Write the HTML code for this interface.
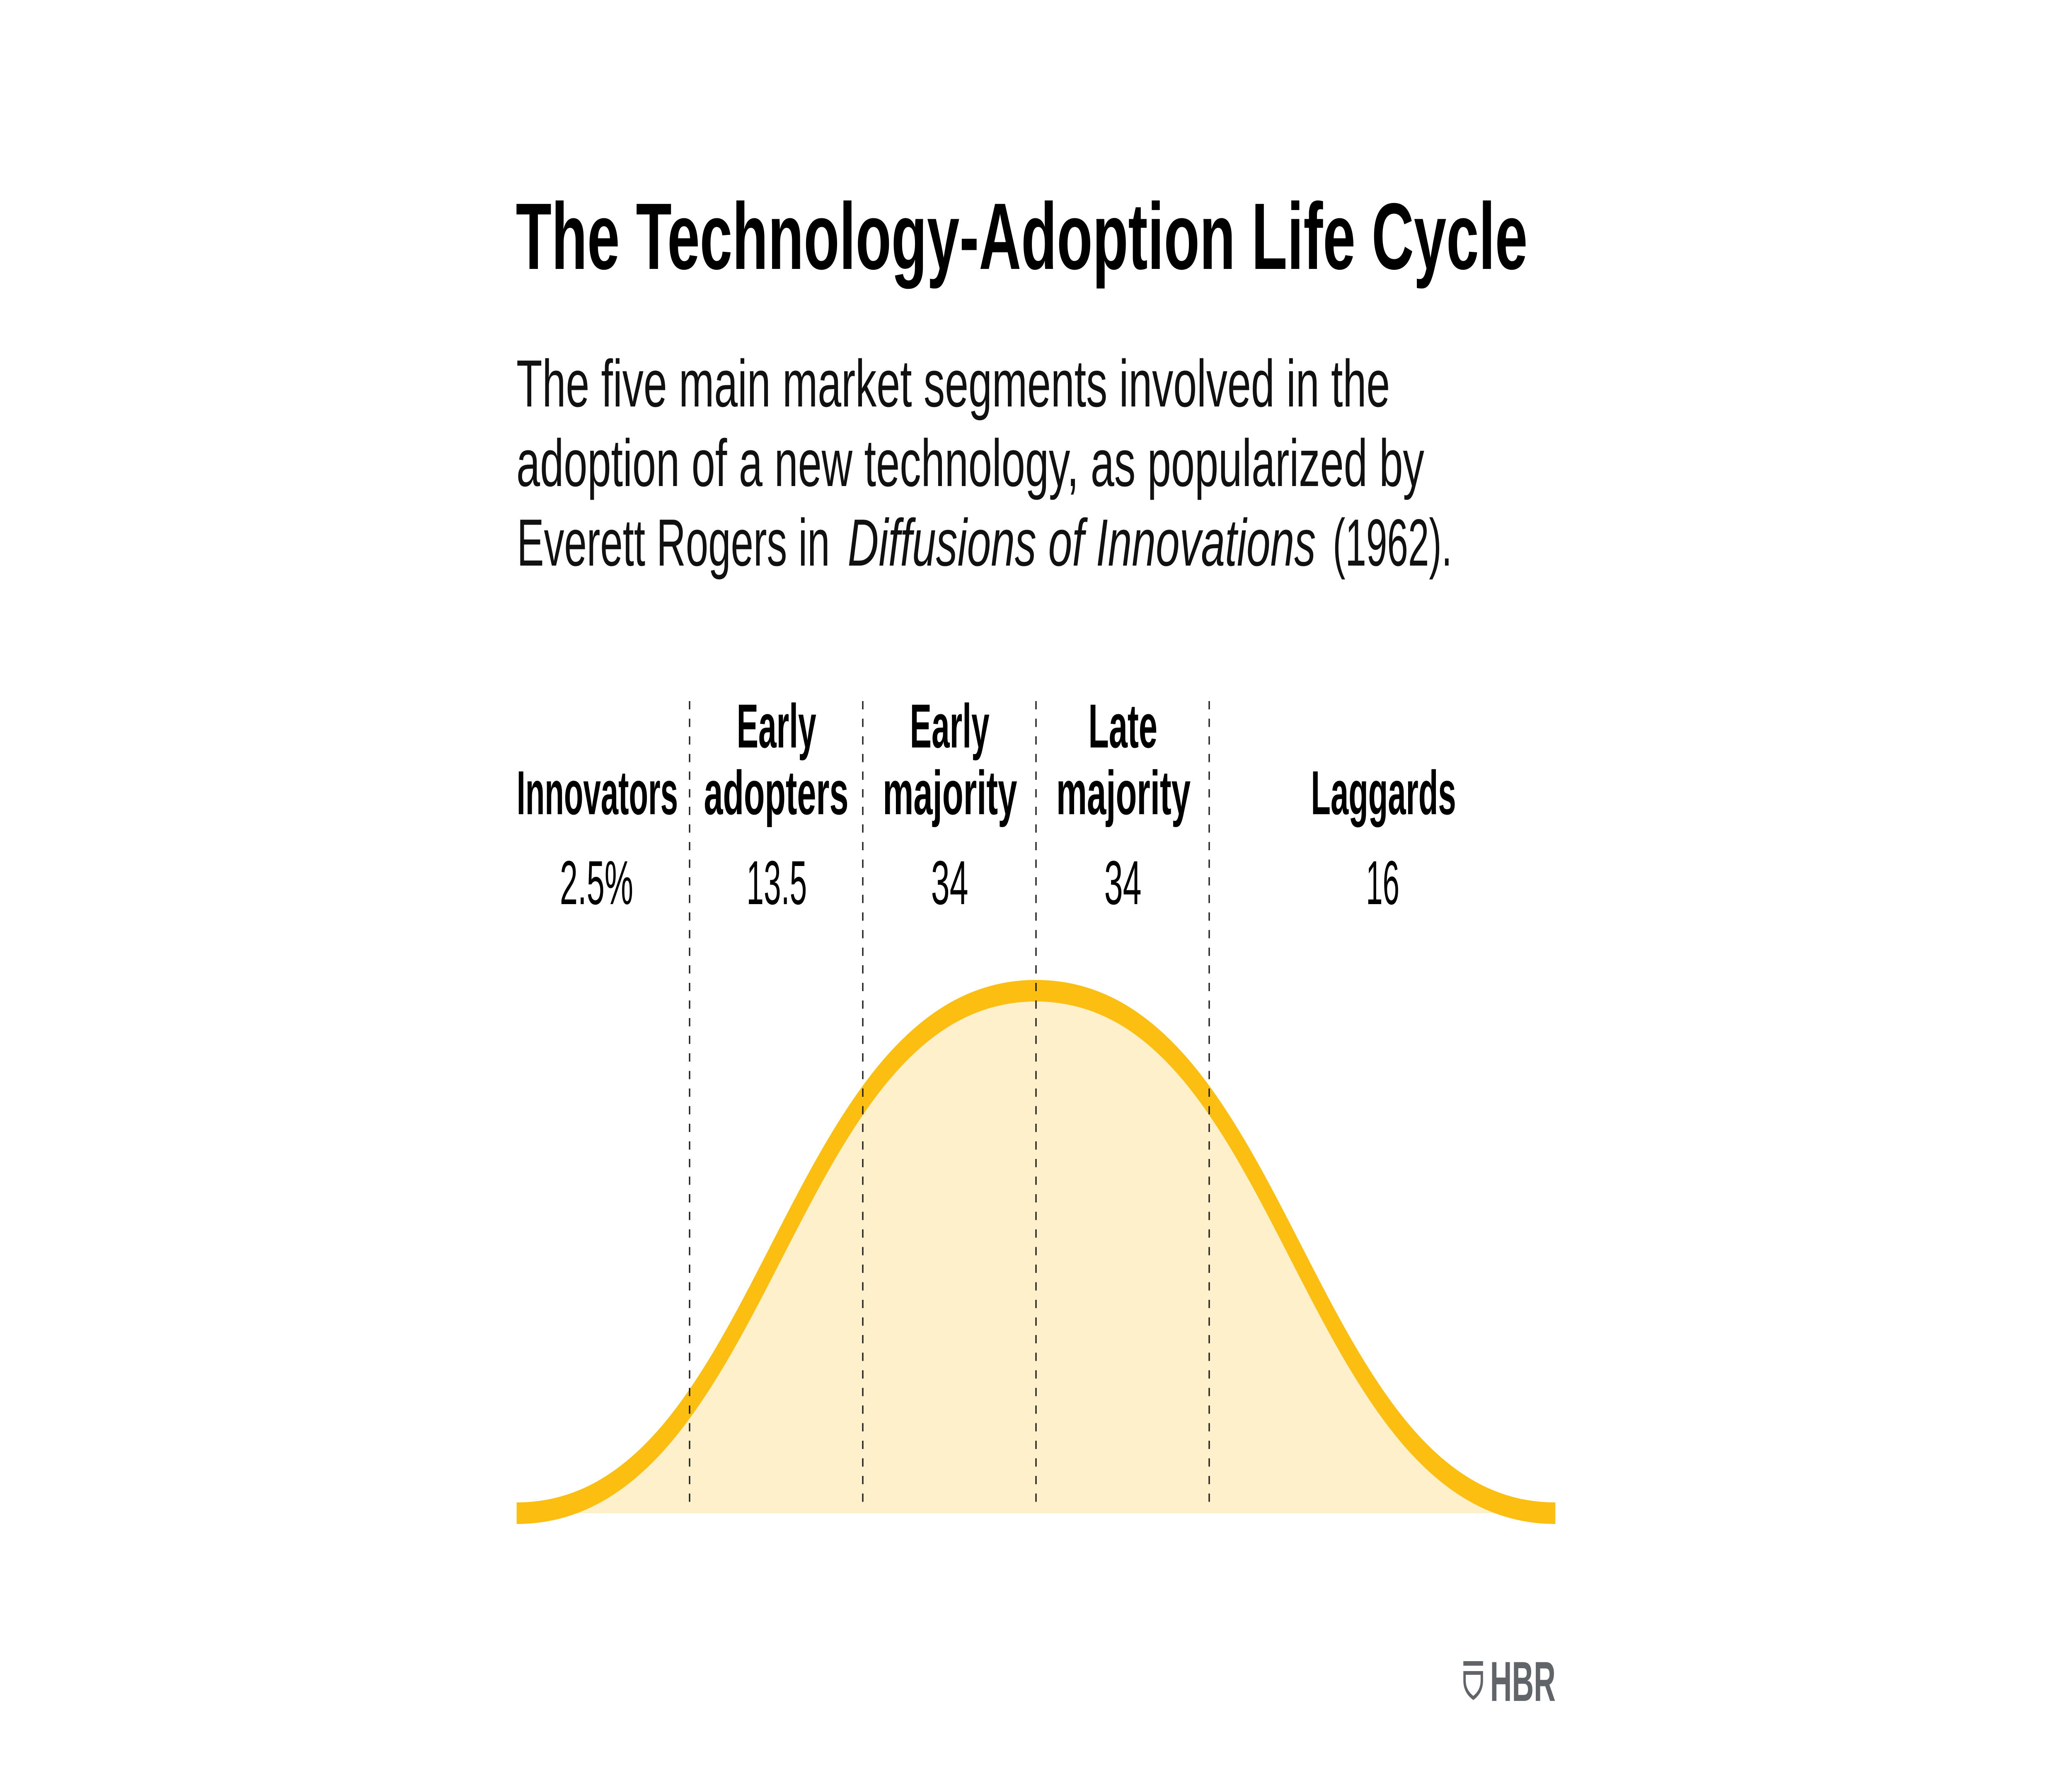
<!DOCTYPE html>
<html>
<head>
<meta charset="utf-8">
<meta name="viewport" content="width=device-width, initial-scale=1">
<style>
  html, body { margin: 0; padding: 0; background: #ffffff; width: 100%; height: 100%; overflow: hidden; }
  svg { display: block; width: 100vw; height: 100vh; }
  text { font-family: "Liberation Sans", Arial, sans-serif; }
</style>
</head>
<body>
<svg viewBox="0 0 7680 4320" preserveAspectRatio="none" xmlns="http://www.w3.org/2000/svg">
  <rect x="0" y="0" width="7680" height="4320" fill="#ffffff"/>

  <!-- Title -->
  <text x="1912" y="649" font-size="228" font-weight="700" fill="#000" textLength="3750" lengthAdjust="spacingAndGlyphs">The Technology-Adoption Life Cycle</text>

  <!-- Subtitle -->
  <text x="1914" y="981" font-size="161" fill="#111" textLength="3238" lengthAdjust="spacingAndGlyphs">The five main market segments involved in the</text>
  <text x="1914" y="1173" font-size="161" fill="#111" textLength="3365" lengthAdjust="spacingAndGlyphs">adoption of a new technology, as popularized by</text>
  <text x="1916" y="1365" font-size="161" fill="#111" textLength="1160" lengthAdjust="spacingAndGlyphs">Everett Rogers in</text>
  <text x="3142" y="1365" font-size="161" font-style="italic" fill="#111" textLength="1735" lengthAdjust="spacingAndGlyphs">Diffusions of Innovations</text>
  <text x="4940" y="1365" font-size="161" fill="#111" textLength="442" lengthAdjust="spacingAndGlyphs">(1962).</text>

  <!-- Chart fill and curve -->
  <path d="M1915,3652 C2847,3652 2908,2391 3840,2391 C4772,2391 4833,3652 5765,3652 Z" fill="#FDF0CB" stroke="none"/>
  <path d="M1915,3652 C2847,3652 2908,2391 3840,2391 C4772,2391 4833,3652 5765,3652" fill="none" stroke="#FCBE10" stroke-width="52" stroke-linecap="butt"/>

  <!-- Dashed dividers -->
  <g stroke="#1a1a1a" stroke-width="5" stroke-dasharray="20 22.5">
    <line x1="2556" y1="1692" x2="2556" y2="3642"/>
    <line x1="3198" y1="1692" x2="3198" y2="3642"/>
    <line x1="3840" y1="1692" x2="3840" y2="3642"/>
    <line x1="4482" y1="1692" x2="4482" y2="3642"/>
  </g>

  <!-- Segment labels -->
  <g font-size="150" font-weight="700" fill="#000" text-anchor="middle">
    <text x="2878" y="1804" textLength="295" lengthAdjust="spacingAndGlyphs">Early</text>
    <text x="3520" y="1804" textLength="295" lengthAdjust="spacingAndGlyphs">Early</text>
    <text x="4162" y="1804" textLength="256" lengthAdjust="spacingAndGlyphs">Late</text>

    <text x="2214" y="1965" textLength="598" lengthAdjust="spacingAndGlyphs">Innovators</text>
    <text x="2877" y="1965" textLength="536" lengthAdjust="spacingAndGlyphs">adopters</text>
    <text x="3521" y="1965" textLength="498" lengthAdjust="spacingAndGlyphs">majority</text>
    <text x="4164" y="1965" textLength="498" lengthAdjust="spacingAndGlyphs">majority</text>
    <text x="5128" y="1965" textLength="538" lengthAdjust="spacingAndGlyphs">Laggards</text>
  </g>

  <!-- Percentages -->
  <g font-size="150" font-weight="400" fill="#000" text-anchor="middle">
    <text x="2211" y="2182" textLength="272" lengthAdjust="spacingAndGlyphs">2.5%</text>
    <text x="2879" y="2182" textLength="224" lengthAdjust="spacingAndGlyphs">13.5</text>
    <text x="3520" y="2182" textLength="138" lengthAdjust="spacingAndGlyphs">34</text>
    <text x="4162" y="2182" textLength="138" lengthAdjust="spacingAndGlyphs">34</text>
    <text x="5125" y="2182" textLength="124" lengthAdjust="spacingAndGlyphs">16</text>
  </g>

  <!-- HBR logo -->
  <g fill="#616569">
    <rect x="5424" y="4009" width="73" height="11"/>
    <path d="M5428.5,4037.5 L5492.5,4037.5 L5492.5,4056 Q5492.5,4082 5461,4098 Q5428.5,4082 5428.5,4056 Z" fill="none" stroke="#616569" stroke-width="9" stroke-linejoin="miter"/>
    <text x="5523" y="4105" font-size="136" font-weight="700" textLength="243" lengthAdjust="spacingAndGlyphs">HBR</text>
  </g>
</svg>
</body>
</html>
